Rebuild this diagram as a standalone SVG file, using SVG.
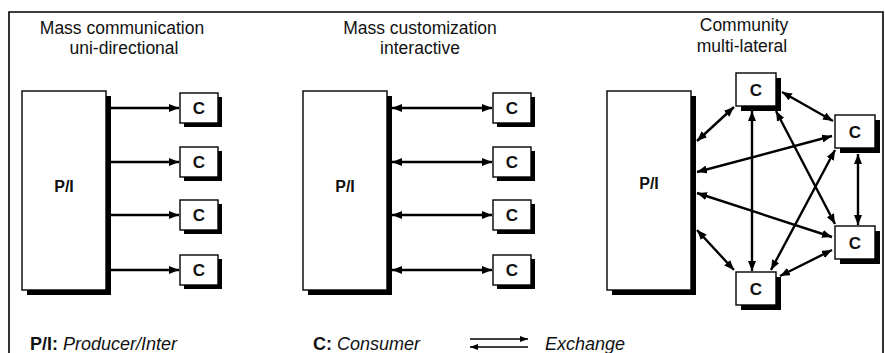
<svg xmlns="http://www.w3.org/2000/svg" width="885" height="353" viewBox="0 0 885 353">
<defs>
<style>
.frame{fill:none;stroke:#000;stroke-width:1.6}
.shadow{fill:#000}
.box{fill:#fff;stroke:#000;stroke-width:1.4}
.title{font-family:"Liberation Sans",Arial,sans-serif;font-size:17.5px;fill:#111;text-anchor:middle}
.pi{font-family:"Liberation Sans",Arial,sans-serif;font-size:16px;font-weight:bold;fill:#111;text-anchor:middle}
.c{font-family:"Liberation Sans",Arial,sans-serif;font-size:17px;font-weight:bold;fill:#111;text-anchor:middle}
.leg{font-family:"Liberation Sans",Arial,sans-serif;font-size:18px;fill:#111}
.conn{stroke:#000;stroke-width:2.4;fill:none}
.legconn{stroke:#000;stroke-width:1.6;fill:none}
</style>
<marker id="ah" viewBox="0 0 10 8" refX="10" refY="4" markerWidth="10" markerHeight="8" markerUnits="userSpaceOnUse" orient="auto-start-reverse"><path d="M0,0 L10,4 L0,8 z" fill="#000"/></marker>
<marker id="ahs" viewBox="0 0 8 6" refX="8" refY="3" markerWidth="8" markerHeight="6" markerUnits="userSpaceOnUse" orient="auto-start-reverse"><path d="M0,0 L8,3 L0,6 z" fill="#000"/></marker>
</defs>
<rect width="885" height="353" fill="#fff"/>
<path class="frame" d="M9,353 V12 H883 V353"/>

<g id="titles">
<text class="title" x="122" y="34">Mass communication</text>
<text class="title" x="124" y="54">uni-directional</text>
<text class="title" x="420" y="34">Mass customization</text>
<text class="title" x="420" y="54">interactive</text>
<text class="title" x="744" y="31">Community</text>
<text class="title" x="742" y="52">multi-lateral</text>
</g>

<!-- Panel 1 -->
<g id="p1-pi"><rect class="shadow" x="27" y="96" width="84" height="199"/><rect class="box" x="22" y="91" width="84" height="199"/><text class="pi" x="64" y="192">P/I</text></g>
<g id="p1-c1"><rect class="shadow" x="184" y="97" width="38" height="30"/><rect class="box" x="180" y="93" width="38" height="30"/><text class="c" x="199" y="114">C</text></g>
<g id="p1-c2"><rect class="shadow" x="184" y="151" width="38" height="30"/><rect class="box" x="180" y="147" width="38" height="30"/><text class="c" x="199" y="168">C</text></g>
<g id="p1-c3"><rect class="shadow" x="184" y="204" width="38" height="30"/><rect class="box" x="180" y="200" width="38" height="30"/><text class="c" x="199" y="221">C</text></g>
<g id="p1-c4"><rect class="shadow" x="184" y="259" width="38" height="30"/><rect class="box" x="180" y="255" width="38" height="30"/><text class="c" x="199" y="276">C</text></g>

<!-- Panel 2 -->
<g id="p2-pi"><rect class="shadow" x="308" y="96" width="84" height="199"/><rect class="box" x="303" y="91" width="84" height="199"/><text class="pi" x="345" y="192">P/I</text></g>
<g id="p2-c1"><rect class="shadow" x="497" y="97" width="38" height="30"/><rect class="box" x="493" y="93" width="38" height="30"/><text class="c" x="512" y="114">C</text></g>
<g id="p2-c2"><rect class="shadow" x="497" y="151" width="38" height="30"/><rect class="box" x="493" y="147" width="38" height="30"/><text class="c" x="512" y="168">C</text></g>
<g id="p2-c3"><rect class="shadow" x="497" y="204" width="38" height="30"/><rect class="box" x="493" y="200" width="38" height="30"/><text class="c" x="512" y="221">C</text></g>
<g id="p2-c4"><rect class="shadow" x="497" y="259" width="38" height="30"/><rect class="box" x="493" y="255" width="38" height="30"/><text class="c" x="512" y="276">C</text></g>

<!-- Panel 3 -->
<g id="p3-pi"><rect class="shadow" x="612" y="96" width="84" height="199"/><rect class="box" x="607" y="91" width="84" height="199"/><text class="pi" x="649" y="189">P/I</text></g>
<g id="p3-ctop"><rect class="shadow" x="741" y="78" width="40" height="33"/><rect class="box" x="736" y="73" width="40" height="33"/><text class="c" x="756" y="96">C</text></g>
<g id="p3-cru"><rect class="shadow" x="840" y="120" width="40" height="33"/><rect class="box" x="835" y="115" width="40" height="33"/><text class="c" x="855" y="138">C</text></g>
<g id="p3-crl"><rect class="shadow" x="840" y="231" width="40" height="33"/><rect class="box" x="835" y="226" width="40" height="33"/><text class="c" x="855" y="249">C</text></g>
<g id="p3-cbot"><rect class="shadow" x="741" y="277" width="40" height="33"/><rect class="box" x="736" y="272" width="40" height="33"/><text class="c" x="756" y="295">C</text></g>

<g id="connectors">
<!-- panel 1 -->
<line class="conn" x1="111" y1="108" x2="179" y2="108" marker-end="url(#ah)"/>
<line class="conn" x1="111" y1="162" x2="179" y2="162" marker-end="url(#ah)"/>
<line class="conn" x1="111" y1="215" x2="179" y2="215" marker-end="url(#ah)"/>
<line class="conn" x1="111" y1="270" x2="179" y2="270" marker-end="url(#ah)"/>
<!-- panel 2 -->
<line class="conn" x1="392" y1="108" x2="492" y2="108" marker-start="url(#ah)" marker-end="url(#ah)"/>
<line class="conn" x1="392" y1="162" x2="492" y2="162" marker-start="url(#ah)" marker-end="url(#ah)"/>
<line class="conn" x1="392" y1="215" x2="492" y2="215" marker-start="url(#ah)" marker-end="url(#ah)"/>
<line class="conn" x1="392" y1="270" x2="492" y2="270" marker-start="url(#ah)" marker-end="url(#ah)"/>
<!-- panel 3 -->
<line class="conn" x1="697" y1="141" x2="734" y2="107" marker-start="url(#ah)" marker-end="url(#ah)"/>
<line class="conn" x1="697" y1="172" x2="832" y2="136" marker-start="url(#ah)" marker-end="url(#ah)"/>
<line class="conn" x1="697" y1="193" x2="832" y2="237" marker-start="url(#ah)" marker-end="url(#ah)"/>
<line class="conn" x1="697" y1="230" x2="734" y2="270" marker-start="url(#ah)" marker-end="url(#ah)"/>
<line class="conn" x1="752" y1="111" x2="752" y2="271" marker-start="url(#ah)" marker-end="url(#ah)"/>
<line class="conn" x1="776" y1="111" x2="835" y2="224" marker-start="url(#ah)" marker-end="url(#ah)"/>
<line class="conn" x1="782" y1="92" x2="833" y2="121" marker-start="url(#ah)" marker-end="url(#ah)"/>
<line class="conn" x1="835" y1="150" x2="771" y2="270" marker-start="url(#ah)" marker-end="url(#ah)"/>
<line class="conn" x1="858" y1="154" x2="858" y2="225" marker-start="url(#ah)" marker-end="url(#ah)"/>
<line class="conn" x1="832" y1="250" x2="780" y2="276" marker-start="url(#ah)" marker-end="url(#ah)"/>
<!-- legend -->
<line class="legconn" x1="470" y1="339" x2="528" y2="339" marker-end="url(#ahs)"/>
<line class="legconn" x1="528" y1="347" x2="470" y2="347" marker-end="url(#ahs)"/>
</g>

<g id="legend">
<text class="leg" x="30" y="350"><tspan font-weight="bold">P/I:</tspan> <tspan font-style="italic">Producer/Inter</tspan></text>
<text class="leg" x="313" y="350"><tspan font-weight="bold">C:</tspan> <tspan font-style="italic">Consumer</tspan></text>
<text class="leg" x="545" y="350" font-style="italic">Exchange</text>
</g>
</svg>
